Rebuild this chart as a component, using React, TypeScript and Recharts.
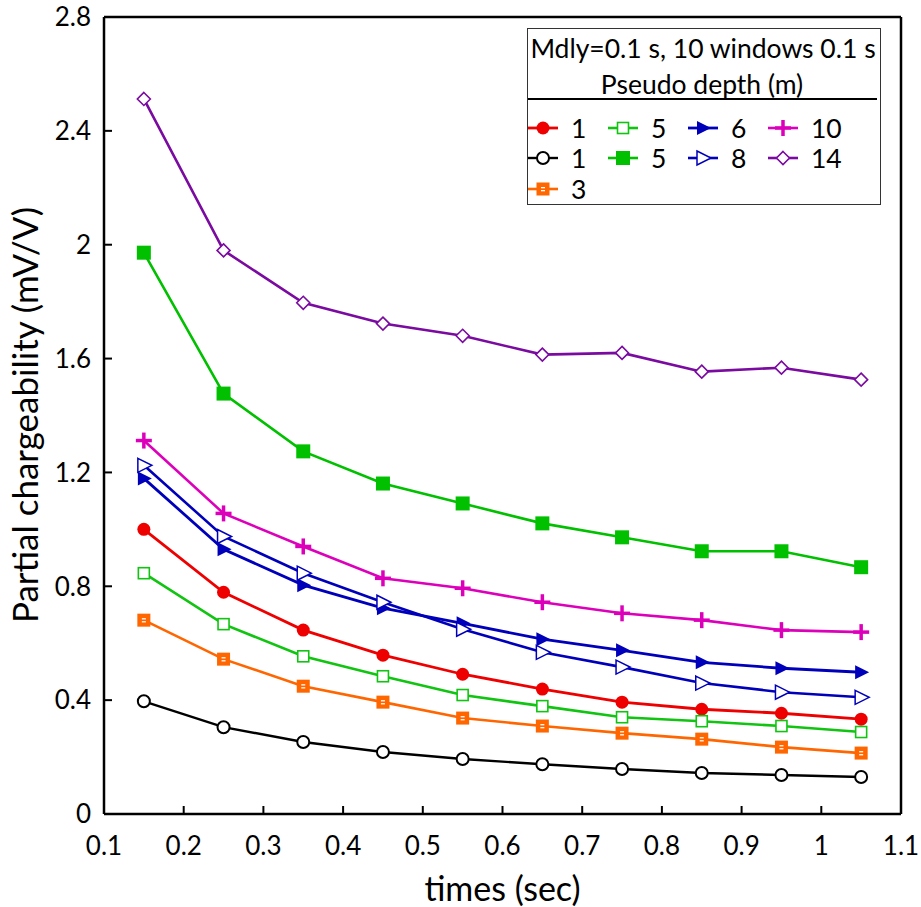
import React from "react";
import {
  LineChart,
  Line,
  XAxis,
  YAxis,
  Legend,
  ReferenceLine,
} from "recharts";

// time windows (sec)
const times = [0.15, 0.25, 0.35, 0.45, 0.55, 0.65, 0.75, 0.85, 0.95, 1.05];
const xTicks = [0.1, 0.2, 0.3, 0.4, 0.5, 0.6, 0.7, 0.8, 0.9, 1.0, 1.1];
const yTicks = [0, 0.4, 0.8, 1.2, 1.6, 2.0, 2.4, 2.8];

// partial chargeability (mV/V) per pseudo depth
const depth1a = [1.0, 0.779, 0.646, 0.558, 0.491, 0.439, 0.393, 0.368, 0.354, 0.333];
const depth5a = [0.846, 0.667, 0.554, 0.484, 0.418, 0.379, 0.34, 0.326, 0.309, 0.288];
const depth6 = [1.179, 0.93, 0.804, 0.723, 0.67, 0.614, 0.575, 0.533, 0.512, 0.498];
const depth10 = [1.312, 1.056, 0.94, 0.828, 0.793, 0.744, 0.705, 0.681, 0.646, 0.639];
const depth1b = [0.396, 0.305, 0.253, 0.218, 0.193, 0.175, 0.158, 0.144, 0.137, 0.13];
const depth5b = [1.972, 1.477, 1.274, 1.161, 1.091, 1.021, 0.972, 0.923, 0.923, 0.867];
const depth8 = [1.225, 0.975, 0.846, 0.744, 0.649, 0.568, 0.516, 0.46, 0.428, 0.41];
const depth14 = [2.512, 1.98, 1.796, 1.723, 1.68, 1.614, 1.62, 1.554, 1.568, 1.526];
const depth3 = [0.681, 0.544, 0.449, 0.393, 0.337, 0.309, 0.284, 0.263, 0.235, 0.214];

type Marker =
  | "circle"
  | "circleOpen"
  | "squareDot"
  | "squareOpen"
  | "square"
  | "tri"
  | "triOpen"
  | "plus"
  | "diamondOpen";

const series: { key: string; name: string; color: string; marker: Marker; values: number[]; width: number }[] = [
  { key: "d1a", name: "1", color: "#ee0000", marker: "circle", values: depth1a, width: 2.8 },
  { key: "d5a", name: "5", color: "#11c411", marker: "squareOpen", values: depth5a, width: 2.6 },
  { key: "d6", name: "6", color: "#0000bb", marker: "tri", values: depth6, width: 2.8 },
  { key: "d10", name: "10", color: "#dd00bb", marker: "plus", values: depth10, width: 2.6 },
  { key: "d1b", name: "1", color: "#000000", marker: "circleOpen", values: depth1b, width: 2.4 },
  { key: "d5b", name: "5", color: "#00c000", marker: "square", values: depth5b, width: 2.6 },
  { key: "d8", name: "8", color: "#0000bb", marker: "triOpen", values: depth8, width: 2.6 },
  { key: "d14", name: "14", color: "#7a0aa0", marker: "diamondOpen", values: depth14, width: 2.6 },
  { key: "d3", name: "3", color: "#ff6600", marker: "squareDot", values: depth3, width: 2.6 },
];

const rows = times.map((t, i) => {
  const row: Record<string, number> = { t };
  series.forEach((s) => {
    row[s.key] = s.values[i];
  });
  return row;
});

function drawMarker(kind: Marker, cx: number, cy: number, color: string, key: string) {
  switch (kind) {
    case "circle":
      return <circle key={key} cx={cx} cy={cy} r={6.5} fill={color} />;
    case "circleOpen":
      return <circle key={key} cx={cx} cy={cy} r={6} fill="#fff" stroke={color} strokeWidth={2} />;
    case "squareDot":
      return (
        <g key={key}>
          <rect x={cx - 6.5} y={cy - 6.5} width={13} height={13} fill={color} />
          <rect x={cx - 2} y={cy - 2} width={4} height={1.3} fill="#fff" />
          <rect x={cx - 2} y={cy + 1} width={4} height={1.3} fill="#fff" />
        </g>
      );
    case "squareOpen":
      return (
        <rect key={key} x={cx - 5.5} y={cy - 5.5} width={11} height={11} fill="#fff" stroke={color} strokeWidth={1.6} />
      );
    case "square":
      return <rect key={key} x={cx - 7} y={cy - 7} width={14} height={14} fill={color} />;
    case "tri":
      return (
        <polygon key={key} points={`${cx - 6},${cy - 7} ${cx + 8},${cy} ${cx - 6},${cy + 7}`} fill={color} />
      );
    case "triOpen":
      return (
        <polygon
          key={key}
          points={`${cx - 6},${cy - 7} ${cx + 8},${cy} ${cx - 6},${cy + 7}`}
          fill="#fff"
          stroke={color}
          strokeWidth={1.5}
        />
      );
    case "plus":
      return (
        <g key={key} stroke={color} strokeWidth={3.5}>
          <line x1={cx - 8} y1={cy} x2={cx + 8} y2={cy} />
          <line x1={cx} y1={cy - 8} x2={cx} y2={cy + 8} />
        </g>
      );
    case "diamondOpen":
      return (
        <polygon
          key={key}
          points={`${cx},${cy - 6.5} ${cx + 6.5},${cy} ${cx},${cy + 6.5} ${cx - 6.5},${cy}`}
          fill="#fff"
          stroke={color}
          strokeWidth={1.6}
        />
      );
  }
}

const fmtX = (v: number) => String(Number(v.toFixed(1)));

const renderYLabel = () => (
  <text x={38} y={415} transform="rotate(-90 38 415)" textAnchor="middle" fontSize={35} fill="#000">
    Partial chargeability (mV/V)
  </text>
);

// legend columns / rows relative to the box
const legendCols = [0, 80, 160, 240];
const legendRows = [99, 129, 160];

const renderLegend = () => (
  <div style={{ width: 354, height: 177, border: "1px solid #333", boxSizing: "border-box", background: "#fff" }}>
    <svg width={352} height={175} style={{ display: "block", fontFamily: "Lato, sans-serif" }}>
      <text x={175} y={29} textAnchor="middle" fontSize={26.5} fill="#000">
        Mdly=0.1 s, 10 windows 0.1 s
      </text>
      <text x={174} y={65} textAnchor="middle" fontSize={26.5} fill="#000">
        Pseudo depth (m)
      </text>
      <line x1={0} y1={70} x2={349} y2={70} stroke="#000" strokeWidth={2} />
      {series.map((s, i) => {
        const x0 = legendCols[i % 4];
        const y0 = legendRows[Math.floor(i / 4)];
        return (
          <g key={s.key}>
            <line x1={x0} y1={y0} x2={x0 + 30} y2={y0} stroke={s.color} strokeWidth={s.width} />
            {drawMarker(s.marker, x0 + 15, y0, s.color, `lm-${s.key}`)}
            <text x={x0 + 43} y={y0 + 9.5} fontSize={26.5} fill="#000">
              {s.name}
            </text>
          </g>
        );
      })}
    </svg>
  </div>
);

export default function App() {
  return (
    <div
      style={{
        position: "absolute",
        left: 0,
        top: 0,
        width: 921,
        height: 907,
        background: "#fff",
        fontFamily: "Lato, 'Open Sans', sans-serif",
      }}
    >
      <LineChart width={921} height={907} data={rows} margin={{ top: 17, right: 20, bottom: 0, left: 0 }}>
        <XAxis
          dataKey="t"
          type="number"
          domain={[0.1, 1.1]}
          ticks={xTicks}
          interval={0}
          tickFormatter={fmtX}
          tick={{ fill: "#000", fontSize: 26 }}
          tickSize={-8}
          tickMargin={31}
          axisLine={{ stroke: "#000", strokeWidth: 2.5 }}
          tickLine={{ stroke: "#000", strokeWidth: 2 }}
          height={93}
          label={{ value: "times (sec)", position: "insideBottom", offset: 6, fill: "#000", fontSize: 34 }}
        />
        <YAxis
          type="number"
          domain={[0, 2.8]}
          ticks={yTicks}
          interval={0}
          tick={{ fill: "#000", fontSize: 26 }}
          tickSize={-8}
          tickMargin={21}
          axisLine={{ stroke: "#000", strokeWidth: 2.5 }}
          tickLine={{ stroke: "#000", strokeWidth: 2 }}
          width={104}
          label={renderYLabel}
        />
        <ReferenceLine y={2.8} stroke="#000" strokeWidth={2.5} />
        <ReferenceLine x={1.1} stroke="#000" strokeWidth={2.5} />
        <Legend
          verticalAlign="middle"
          align="center"
          layout="horizontal"
          wrapperStyle={{ position: "absolute", left: 527, top: 28, width: 354, height: 177, margin: 0, padding: 0 }}
          content={renderLegend}
        />
        {series.map((s) => (
          <Line
            key={s.key}
            dataKey={s.key}
            name={s.name}
            stroke={s.color}
            strokeWidth={s.width}
            isAnimationActive={false}
            dot={(p: any) => drawMarker(s.marker, p.cx, p.cy, s.color, `${s.key}-${p.index}`)}
            activeDot={false}
          />
        ))}
      </LineChart>
    </div>
  );
}
